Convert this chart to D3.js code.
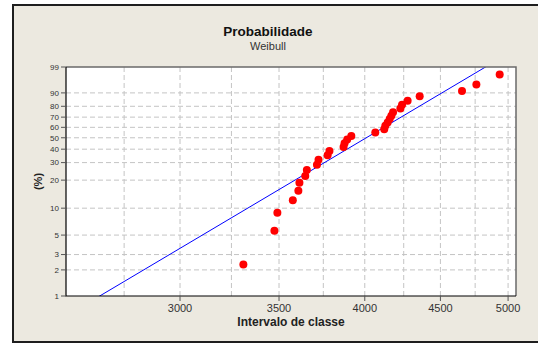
<!DOCTYPE html>
<html>
<head>
<meta charset="utf-8">
<script src="https://cdn.jsdelivr.net/npm/d3@7"></script>
<style>
	body { margin: 0; background: #fff; }
	text { font-family: "Liberation Sans", Arial, sans-serif; }
</style>
</head>
<body>
<div id="graphicContainer"></div>
<script>

// observed values (class interval) and their cumulative probability in %

var values = [3311, 3475, 3491, 3576, 3607, 3613, 3646, 3655, 3713, 3722,
	3775, 3786, 3870, 3876, 3892, 3917, 4066, 4123, 4130, 4145,
	4158, 4169, 4180, 4228, 4239, 4276, 4357, 4654, 4759, 4935]

var percents = [2.3, 5.6, 8.9, 12.2, 15.5, 18.8, 22.0, 25.3, 28.6, 31.9,
	35.2, 38.5, 41.8, 45.1, 48.4, 51.6, 54.9, 58.2, 61.5, 64.8,
	68.1, 71.4, 74.7, 78.0, 81.3, 84.5, 87.8, 91.1, 94.4, 97.7]

// fitted weibull (shape, scale)

var shape = 10.2
var scale = 4156

var yTicks = [1, 2, 3, 5, 10, 20, 30, 40, 50, 60, 70, 80, 90, 99]
var xTicks = [3000, 3500, 4000, 4500, 5000]
var xGrid = [2750, 3000, 3250, 3500, 3750, 4000, 4250, 4500, 4750, 5000]

var width = 538
var height = 345
var margin = {top: 67, right: 22, bottom: 49, left: 66}

// weibull probability paper: ln(-ln(1-p))

function wb(p) {
	return Math.log(-Math.log(1 - p / 100))
}

var svg = d3.select("#graphicContainer").append("svg")
	.attr("width", width)
	.attr("height", height)

// outer panel, right edge runs off the picture

svg.append("rect")
	.attr("x", 13)
	.attr("y", 5)
	.attr("width", 560)
	.attr("height", 337)
	.attr("fill", "#ece9e0")
	.attr("stroke", "#1e1e1e")
	.attr("stroke-width", 2)

var x = d3.scaleLog()
	.domain([2512, 5062])
	.range([margin.left, width - margin.right])

var y = d3.scaleLinear()
	.domain([wb(1), wb(99)])
	.range([height - margin.bottom, margin.top])

var plotW = width - margin.right - margin.left
var plotH = height - margin.bottom - margin.top

svg.append("rect")
	.attr("x", margin.left)
	.attr("y", margin.top)
	.attr("width", plotW)
	.attr("height", plotH)
	.attr("fill", "#fff")

svg.append("clipPath").attr("id", "clip")
	.append("rect")
	.attr("x", margin.left)
	.attr("y", margin.top)
	.attr("width", plotW)
	.attr("height", plotH)

// grid

svg.append("g")
	.selectAll("line")
	.data(yTicks.filter(d => d != 1 && d != 99))
	.enter()
	.append("line")
	.attr("x1", margin.left)
	.attr("x2", width - margin.right)
	.attr("y1", d => y(wb(d)))
	.attr("y2", d => y(wb(d)))
	.attr("stroke", "#c4c4c4")
	.attr("stroke-dasharray", "5,3")

svg.append("g")
	.selectAll("line")
	.data(xGrid)
	.enter()
	.append("line")
	.attr("x1", d => x(d))
	.attr("x2", d => x(d))
	.attr("y1", margin.top)
	.attr("y2", height - margin.bottom)
	.attr("stroke", "#c4c4c4")
	.attr("stroke-dasharray", "5,3")

// fitted line

var lo = x.domain()[0]
var hi = x.domain()[1]

svg.append("line")
	.attr("clip-path", "url(#clip)")
	.attr("x1", x(lo))
	.attr("y1", y(shape * (Math.log(lo) - Math.log(scale))))
	.attr("x2", x(hi))
	.attr("y2", y(shape * (Math.log(hi) - Math.log(scale))))
	.attr("stroke", "#0000ff")
	.attr("stroke-width", 1)

// points

svg.append("g")
	.selectAll("circle")
	.data(values)
	.enter()
	.append("circle")
	.attr("cx", d => x(d))
	.attr("cy", (d, i) => y(wb(percents[i])))
	.attr("r", 4)
	.attr("fill", "#ff0000")

// plot frame

svg.append("path")
	.attr("d", `M${margin.left},${margin.top}H${width - margin.right}V${height - margin.bottom}`)
	.attr("fill", "none")
	.attr("stroke", "#6a6a6a")
	.attr("stroke-width", 1.5)

svg.append("path")
	.attr("d", `M${margin.left},${margin.top}V${height - margin.bottom}H${width - margin.right}`)
	.attr("fill", "none")
	.attr("stroke", "#000")
	.attr("stroke-width", 1.2)

// y axis

var yAxis = svg.append("g")

yAxis.selectAll("line")
	.data(yTicks)
	.enter()
	.append("line")
	.attr("x1", margin.left - 5)
	.attr("x2", margin.left)
	.attr("y1", d => y(wb(d)))
	.attr("y2", d => y(wb(d)))
	.attr("stroke", "#555")

yAxis.selectAll("text")
	.data(yTicks)
	.enter()
	.append("text")
	.attr("x", margin.left - 7)
	.attr("y", d => y(wb(d)))
	.attr("dy", "0.35em")
	.attr("text-anchor", "end")
	.attr("font-size", "8px")
	.attr("fill", "#333")
	.text(d => d)

// x axis

var xAxis = svg.append("g")

xAxis.selectAll("line")
	.data(xTicks)
	.enter()
	.append("line")
	.attr("x1", d => x(d))
	.attr("x2", d => x(d))
	.attr("y1", height - margin.bottom)
	.attr("y2", height - margin.bottom + 5)
	.attr("stroke", "#555")

xAxis.selectAll("text")
	.data(xTicks)
	.enter()
	.append("text")
	.attr("x", d => x(d))
	.attr("y", 312)
	.attr("text-anchor", "middle")
	.attr("font-size", "11px")
	.attr("fill", "#333")
	.text(d => d)

// titles

svg.append("text")
	.attr("x", 268)
	.attr("y", 36)
	.attr("text-anchor", "middle")
	.attr("font-size", "13.5px")
	.attr("font-weight", "bold")
	.attr("fill", "#111")
	.text("Probabilidade")

svg.append("text")
	.attr("x", 268)
	.attr("y", 50)
	.attr("text-anchor", "middle")
	.attr("font-size", "11px")
	.attr("fill", "#333")
	.text("Weibull")

svg.append("text")
	.attr("x", margin.left + plotW / 2)
	.attr("y", 326)
	.attr("text-anchor", "middle")
	.attr("font-size", "12px")
	.attr("font-weight", "bold")
	.attr("fill", "#222")
	.text("Intervalo de classe")

svg.append("text")
	.attr("transform", `translate(42,${margin.top + plotH / 2}) rotate(-90)`)
	.attr("text-anchor", "middle")
	.attr("font-size", "11px")
	.attr("font-weight", "bold")
	.attr("fill", "#222")
	.text("(%)")

</script>
</body>
</html>
